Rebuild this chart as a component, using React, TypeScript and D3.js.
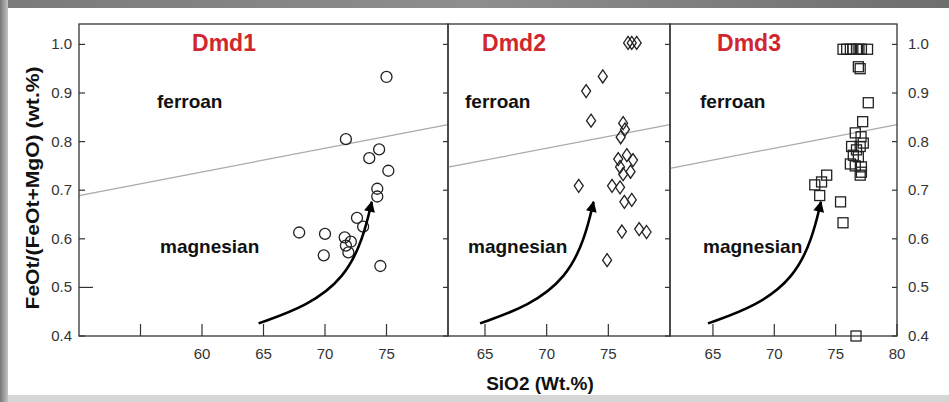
import React from 'react';
import * as d3 from 'd3';

// SiO2 (wt.%) vs FeOt/(FeOt+MgO)
const dmd1SiO2 = [75.0, 71.7, 74.4, 73.6, 75.15, 74.25, 74.25, 72.6, 73.1, 67.9, 70.0, 71.6, 72.1, 71.7, 71.9, 69.9, 74.5];
const dmd1FeNo = [0.933, 0.805, 0.784, 0.766, 0.740, 0.703, 0.687, 0.643, 0.625, 0.613, 0.610, 0.603, 0.594, 0.586, 0.572, 0.566, 0.544];

const dmd2SiO2 = [76.6, 76.9, 77.3, 74.55, 73.2, 73.6, 76.2, 76.35, 76.0, 76.5, 77.0, 75.8, 75.95, 76.8, 76.2, 72.6, 75.3, 75.95, 76.3, 76.9, 76.1, 77.5, 78.1, 74.9];
const dmd2FeNo = [1.003, 1.003, 1.003, 0.934, 0.904, 0.843, 0.838, 0.825, 0.809, 0.772, 0.762, 0.764, 0.748, 0.738, 0.733, 0.709, 0.709, 0.706, 0.676, 0.680, 0.615, 0.620, 0.614, 0.556];

const dmd3SiO2 = [75.6, 75.9, 76.2, 76.4, 76.7, 76.9, 77.1, 77.6, 76.85, 77.0, 77.66, 77.2, 76.6, 77.07, 76.3, 77.25, 76.7, 77.0, 76.44, 76.85, 76.2, 76.6, 77.1, 77.1, 77.0, 74.27, 73.3, 73.85, 73.7, 75.4, 75.6, 76.66];
const dmd3FeNo = [0.990, 0.990, 0.990, 0.990, 0.990, 0.990, 0.990, 0.990, 0.954, 0.950, 0.880, 0.841, 0.818, 0.810, 0.790, 0.797, 0.783, 0.790, 0.772, 0.769, 0.754, 0.750, 0.748, 0.737, 0.731, 0.731, 0.711, 0.717, 0.689, 0.676, 0.633, 0.400];

// ferroan / magnesian boundary, and the trend arrow (control points)
const boundarySiO2 = [50, 80];
const boundaryFeNo = [0.689, 0.835];
const trendSiO2 = [64.6, 68.6, 71.6, 73.1, 73.8];
const trendFeNo = [0.426, 0.462, 0.52, 0.6, 0.676];

const yTicks = [0.4, 0.5, 0.6, 0.7, 0.8, 0.9, 1.0];

type Shape = 'circle' | 'diamond' | 'square';

const panels = [
  { name: 'Dmd1', domain: [50, 80], left: 79, right: 448, xTicks: [55, 60, 65, 70, 75], xLabels: [60, 65, 70, 75],
    shape: 'circle' as Shape, si: dmd1SiO2, fe: dmd1FeNo, titleX: 224, ferroanDx: 78, magnesianDx: 81 },
  { name: 'Dmd2', domain: [62, 80], left: 448, right: 670, xTicks: [65, 70, 75], xLabels: [65, 70, 75],
    shape: 'diamond' as Shape, si: dmd2SiO2, fe: dmd2FeNo, titleX: 514, ferroanDx: 17, magnesianDx: 20 },
  { name: 'Dmd3', domain: [61.5, 80], left: 670, right: 897, xTicks: [65, 70, 75, 80], xLabels: [65, 70, 75, 80],
    shape: 'square' as Shape, si: dmd3SiO2, fe: dmd3FeNo, titleX: 749, ferroanDx: 30, magnesianDx: 33 },
];

const W = 949;
const H = 402;
const top = 24;
const bottom = 336;
const font = "'Liberation Sans', Arial, Helvetica, sans-serif";
const red = '#d1262e';
const axisColor = '#333';

const yScale = d3.scaleLinear().domain([0.4, 1.042]).range([bottom, top]);
const boundary = d3.scaleLinear().domain(boundarySiO2).range(boundaryFeNo);

const Marker = ({ shape, x, y }: { shape: Shape; x: number; y: number }) => {
  const common = { fill: 'none', stroke: '#222', strokeWidth: 1.3 };
  if (shape === 'circle') return <circle cx={x} cy={y} r={5.5} {...common} />;
  if (shape === 'diamond')
    return <path d={`M${x},${y - 6.5}L${x + 4.5},${y}L${x},${y + 6.5}L${x - 4.5},${y}Z`} {...common} />;
  return <rect x={x - 5} y={y - 5} width={10} height={10} {...common} />;
};

const Panel = ({ p }: { p: (typeof panels)[number] }) => {
  const x = d3.scaleLinear().domain(p.domain).range([p.left, p.right]);
  const [d0, d1] = p.domain;
  const trend = d3
    .line<number>()
    .x((_, i) => x(trendSiO2[i]))
    .y((v) => yScale(v))
    .curve(d3.curveBasis)(trendFeNo);

  return (
    <g>
      {/* ferroan / magnesian divide */}
      <line
        x1={x(d0)} y1={yScale(boundary(d0))}
        x2={x(d1)} y2={yScale(boundary(d1))}
        stroke="#aaa" strokeWidth={1.2}
      />

      <text x={p.titleX} y={51} textAnchor="middle" fill={red} fontSize={23} fontWeight="bold">{p.name}</text>
      <text x={p.left + p.ferroanDx} y={108} fontSize={19} fontWeight="bold" fill="#111">ferroan</text>
      <text x={p.left + p.magnesianDx} y={253} fontSize={19} fontWeight="bold" fill="#111">magnesian</text>

      {p.si.map((s, i) => (
        <Marker key={i} shape={p.shape} x={x(s)} y={yScale(p.fe[i])} />
      ))}

      <path d={trend ?? ''} fill="none" stroke="#000" strokeWidth={2.6} markerEnd="url(#arrowhead)" />

      {/* frame */}
      <rect x={p.left} y={top} width={p.right - p.left} height={bottom - top} fill="none" stroke={axisColor} strokeWidth={1.3} />

      {/* bottom ticks, pointing inward */}
      {p.xTicks.map((t) => (
        <line key={t} x1={x(t)} x2={x(t)} y1={bottom} y2={bottom - 12} stroke={axisColor} strokeWidth={1.2} />
      ))}
      {p.xLabels.map((t) => (
        <text key={t} x={x(t)} y={358.5} textAnchor="middle" fontSize={15} fill="#333">{t}</text>
      ))}

      {/* right-edge ticks */}
      {yTicks.map((t) => (
        <line key={t} x1={p.right - 5} x2={p.right} y1={yScale(t)} y2={yScale(t)} stroke={axisColor} strokeWidth={1.2} />
      ))}
    </g>
  );
};

export default function App() {
  const fmt = d3.format('.1f');
  const first = panels[0];
  const last = panels[panels.length - 1];

  return (
    <svg
      width={W}
      height={H}
      fontFamily={font}
      style={{ position: 'absolute', left: 0, top: 0, display: 'block', background: '#fff' }}
    >
      <defs>
        <linearGradient id="topBand" x1="0" x2="1" y1="0" y2="0">
          <stop offset="0%" stopColor="#7a7a7a" />
          <stop offset="50%" stopColor="#8e8e8e" />
          <stop offset="100%" stopColor="#6e6e6e" />
        </linearGradient>
        <linearGradient id="leftBand" x1="0" x2="1" y1="0" y2="0">
          <stop offset="0%" stopColor="#777" />
          <stop offset="100%" stopColor="#c4c4c4" />
        </linearGradient>
        <marker id="arrowhead" viewBox="0 0 10 10" refX="9" refY="5" markerWidth="12" markerHeight="11"
          markerUnits="userSpaceOnUse" orient="auto">
          <path d="M0,0L10,5L0,10Z" fill="#000" />
        </marker>
      </defs>

      {/* picture frame */}
      <rect x={0} y={0} width={W} height={H} fill="#fff" />
      <rect x={0} y={0} width={W} height={8} fill="url(#topBand)" />
      <rect x={0} y={0} width={8} height={H} fill="url(#leftBand)" />
      <rect x={8} y={395} width={W - 8} height={H - 395} fill="#d6d6d6" />

      {panels.map((p) => (
        <Panel key={p.name} p={p} />
      ))}

      {/* left axis of first panel, right axis of last panel */}
      {yTicks.map((t) => (
        <g key={t}>
          <line x1={first.left} x2={first.left + (t === 0.5 ? 14 : 6)} y1={yScale(t)} y2={yScale(t)} stroke={axisColor} strokeWidth={1.2} />
          <text x={72} y={yScale(t) + 5} textAnchor="end" fontSize={15} fill="#333">{fmt(t)}</text>
          <text x={last.right + 11} y={yScale(t) + 5} fontSize={15} fill="#333">{fmt(t)}</text>
        </g>
      ))}

      <text
        transform="translate(39,188) rotate(-90)"
        textAnchor="middle"
        fontSize={18}
        fontWeight="bold"
        fill="#111"
        textLength={243}
        lengthAdjust="spacingAndGlyphs"
      >
        FeOt/(FeOt+MgO) (wt.%)
      </text>
      <text x={540} y={390} textAnchor="middle" fontSize={19} fontWeight="bold" fill="#111">SiO2 (Wt.%)</text>
    </svg>
  );
}
